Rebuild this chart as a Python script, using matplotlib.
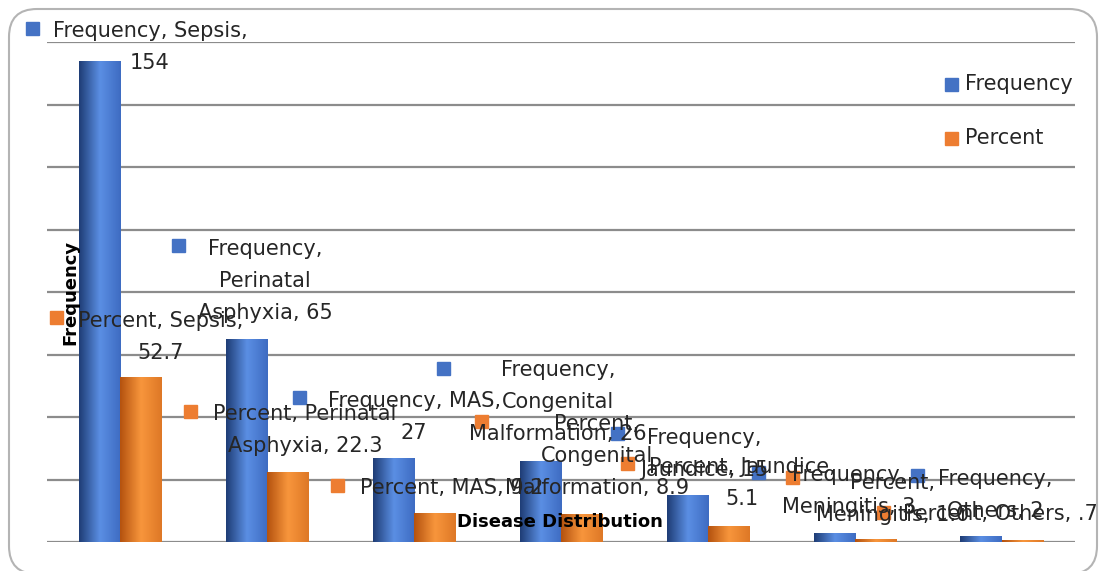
import textwrap

import matplotlib
matplotlib.use('Agg')
import matplotlib.pyplot as plt
import numpy as np
from matplotlib.colors import LinearSegmentedColormap
from matplotlib.patches import FancyBboxPatch, Rectangle

# Data.
CATEGORIES = ['Sepsis', 'Perinatal Asphyxia', 'MAS', 'Congenital Malformation',
              'Jaundice', 'Meningitis', 'Others']
FREQUENCY = [154, 65, 27, 26, 15, 3, 2]
PERCENT = [52.7, 22.3, 9.2, 8.9, 5.1, 1.0, 0.7]
SERIES = ['Frequency', 'Percent']

BLUE = '#4472C4'
ORANGE = '#ED7D31'

W, H = 1099, 571

# Data label layout: (series, category index, wrap width,
#                     key x, key y, text centre x, first line centre y) in pixels.
LABELS = [
    (0, 0, 18, 32, 28, 150, 30),
    (0, 1, 12, 178, 245, 265, 248),
    (1, 0, 16, 56, 317, 161, 320),
    (1, 1, 18, 190, 411, 305, 413),
    (0, 2, 15, 299, 397, 414, 400),
    (1, 2, 20, 337, 485, 452, 487),
    (0, 3, 16, 443, 368, 558, 369),
    (1, 3, 17, 481, 421, 597, 423),
    (0, 4, 12, 617, 433, 704, 437),
    (1, 4, 18, 627, 463, 742, 466),
    (0, 5, 14, 758, 472, 849, 474),
    (1, 5, 15, 792, 477, 893, 482),
    (0, 6, 12, 917, 475, 995, 478),
    (1, 6, 20, 883, 512, 1000, 513),
]


def fmt(value):
    """Format like SPSS output: no leading zero."""
    if float(value).is_integer() and value >= 2:
        return '%d' % value
    return ('%.1f' % value).lstrip('0')


def shade_bars(ax, bars, stops):
    """Paint a horizontal cylinder-like gradient into each bar."""
    cmap = LinearSegmentedColormap.from_list('shade', stops)
    grad = np.linspace(0, 1, 64).reshape(1, -1)
    for bar in bars:
        x0, y0 = bar.get_x(), bar.get_y()
        im = ax.imshow(grad, cmap=cmap, aspect='auto', interpolation='bicubic',
                       extent=(x0, x0 + bar.get_width(), y0, y0 + bar.get_height()),
                       zorder=2)
        im.set_clip_path(bar)


def pixel_axes(fig, zorder):
    """Full-figure axes whose data units are pixels from the top-left."""
    pax = fig.add_axes((0, 0, 1, 1), zorder=zorder)
    pax.set_xlim(0, W)
    pax.set_ylim(H, 0)
    pax.axis('off')
    pax.patch.set_visible(False)
    return pax


def main():
    plt.rcParams['font.family'] = ['DejaVu Sans']
    fig = plt.figure(figsize=(W / 100, H / 100), dpi=100)

    # Rounded chart border.
    bg = pixel_axes(fig, 0)
    bg.add_patch(FancyBboxPatch((9, 9), 1088, 565,
                                boxstyle='round,pad=0,rounding_size=28',
                                facecolor='white', edgecolor='#b4b4b4',
                                linewidth=1.5))

    ax = fig.add_axes((47 / W, 1 - 542 / H, (1075 - 47) / W, 500 / H), zorder=1)
    ax.set_facecolor('none')
    x = np.arange(len(CATEGORIES))
    width = 0.28
    blue_bars = ax.bar(x - width / 2, FREQUENCY, width, color=BLUE, zorder=2)
    orange_bars = ax.bar(x + width / 2, PERCENT, width, color=ORANGE, zorder=2)
    shade_bars(ax, blue_bars, ['#1f3d76', '#5b8fe4', '#3e6cc2'])
    shade_bars(ax, orange_bars, ['#b4520f', '#f8963c', '#de7826'])

    ax.set_xlim(-0.5, len(CATEGORIES) - 0.5)
    ax.set_ylim(0, 160)
    ax.set_yticks(np.arange(0, 161, 20))
    ax.set_xticks([])
    ax.tick_params(left=False, labelleft=False)
    ax.grid(axis='y', color='#8c8c8c', linewidth=1.6, zorder=0)
    for spine in ax.spines.values():
        spine.set_visible(False)

    top = pixel_axes(fig, 2)

    # Axis titles (placed inside the plot area like the original).
    top.text(70, 292, 'Frequency', rotation=90, fontsize=13,
             fontweight='bold', ha='center', va='center')
    top.text(560, 522, 'Disease Distribution', fontsize=13,
             fontweight='bold', ha='center', va='center')

    # Data labels with legend keys.
    values = [FREQUENCY, PERCENT]
    colors = [BLUE, ORANGE]
    key = 13
    for s, c, wrap, kx, ky, tx, ty in LABELS:
        text = '%s, %s, %s' % (SERIES[s], CATEGORIES[c], fmt(values[s][c]))
        text = textwrap.fill(text, wrap)
        top.add_patch(Rectangle((kx - key / 2, ky - key / 2), key, key,
                                color=colors[s], zorder=3))
        # 'top' of the first line sits about 9 px above its centre.
        top.text(tx, ty - 9, text, fontsize=15, ha='center', va='top',
                 multialignment='center', linespacing=1.75, color='#262626',
                 zorder=4, clip_on=False)

    # Legend.
    for name, color, ly in zip(SERIES, colors, [84, 138]):
        top.add_patch(Rectangle((945, ly - 6.5), key, key, color=color))
        top.text(965, ly, name, fontsize=15, ha='left', va='center',
                 color='#262626')

    fig.savefig('out.png', dpi=100)


if __name__ == '__main__':
    main()
